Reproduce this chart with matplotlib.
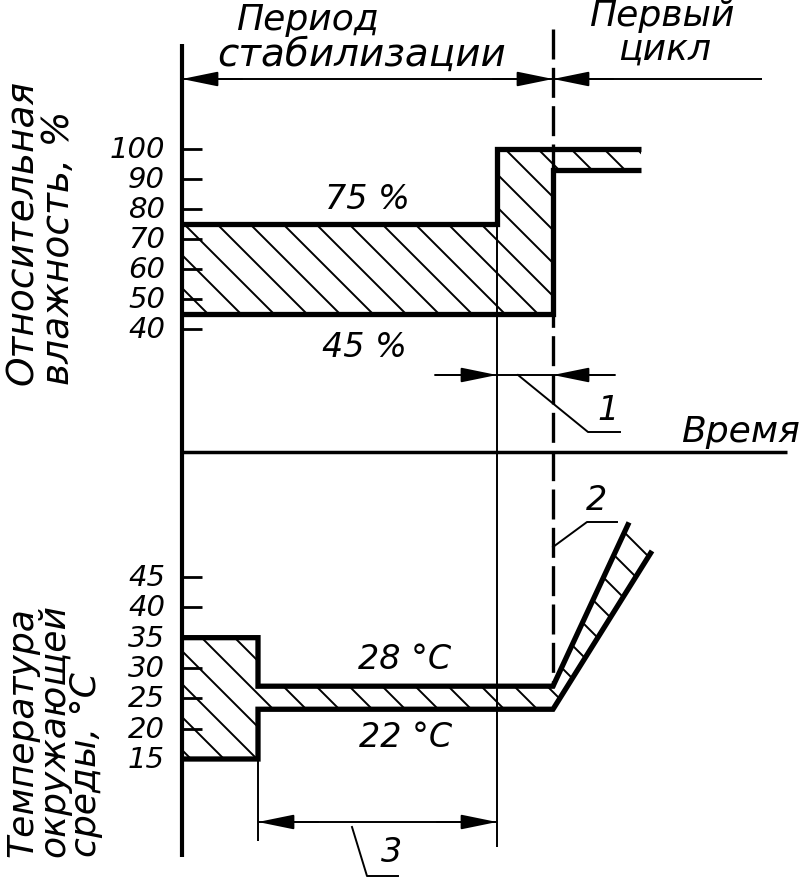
import numpy as np
import matplotlib
matplotlib.use('Agg')
import matplotlib.pyplot as plt
from matplotlib.patches import Polygon
from matplotlib.collections import LineCollection

plt.rcParams['font.family'] = ['DejaVu Sans']
plt.rcParams['font.style'] = 'italic'

# time in drawing units, 0 = start of the stabilisation period
t_temp_step = 76
t_hum_step = 315
t_cycle = 371
t_hum_end = 459

# relative humidity band, %
hum_t_upper = [0, t_hum_step, t_hum_step, t_hum_end]
hum_upper = [75, 75, 100, 100]
hum_t_lower = [0, t_cycle, t_cycle, t_hum_end]
hum_lower = [45, 45, 93, 93]

# ambient temperature band, deg C
temp_t_upper = [0, t_temp_step, t_temp_step, t_cycle, 447]
temp_upper = [35, 35, 27, 27, 54]
temp_t_lower = [0, t_temp_step, t_temp_step, t_cycle, 470]
temp_lower = [15, 15, 23.2, 23.2, 49.3]

hum_ticks = [100, 90, 80, 70, 60, 50, 40]
temp_ticks = [45, 40, 35, 30, 25, 20, 15]

W, H = 801, 879
fig = plt.figure(figsize=(W / 100, H / 100), dpi=100)


def full_ax(ylim):
    ax = fig.add_axes([0, 0, 1, 1])
    ax.set_xlim(-182, W - 182)
    ax.set_ylim(*ylim)
    ax.axis('off')
    return ax


ov = full_ax((H, 0))                       # overlay for the drawing furniture
ah = full_ax((100 - (H - 150) / 3, 100 + 150 / 3))
k = 182 / 30
at = full_ax((15 - (H - 760) / k, 15 + 760 / k))

THICK = 3.8
THIN = 1.4


def band(ax, tu, yu, tl, yl):
    xs = list(tu) + list(tl)[::-1]
    ys = list(yu) + list(yl)[::-1]
    poly = Polygon(np.column_stack([xs, ys]), closed=True, fc='none', ec='none')
    ax.add_patch(poly)
    c = np.arange(-H - 400, W, 33)
    segs = [[(x, 0), (x + H, H)] for x in c]
    lc = LineCollection(segs, colors='k', linewidths=THIN)
    ov.add_collection(lc)
    lc.set_clip_path(poly)
    for t, y in ((tu, yu), (tl, yl)):
        ax.plot(t, y, color='k', lw=THICK, solid_joinstyle='miter',
                solid_capstyle='butt')


band(ah, hum_t_upper, hum_upper, hum_t_lower, hum_lower)
band(at, temp_t_upper, temp_upper, temp_t_lower, temp_lower)

# axes and ticks
ov.vlines(0, 45, 858, color='k', lw=3)
ov.hlines(453, 0, 605, color='k', lw=2.5)
ah.hlines(hum_ticks, 0, 20, color='k', lw=2)
at.hlines(temp_ticks, 0, 20, color='k', lw=2)
for v in hum_ticks:
    ah.text(-17, v, str(v), ha='right', va='center', fontsize=21)
for v in temp_ticks:
    at.text(-17, v, str(v), ha='right', va='center', fontsize=21)

# reference lines
ov.vlines(t_hum_step, 152, 848, color='k', lw=THIN)
ov.vlines(t_temp_step, 710, 842, color='k', lw=THIN)
ov.plot([t_cycle, t_cycle], [30, 688], color='k', lw=2.4, ls=(0, (9, 2.5)))


def arrow(tip, tail):
    ov.annotate('', xy=tip, xytext=tail,
                arrowprops=dict(arrowstyle='-|>,head_length=22,head_width=4.5',
                                mutation_scale=1, lw=THIN, color='k',
                                shrinkA=0, shrinkB=0))


# period dimension lines
ov.hlines(80, 0, 580, color='k', lw=THIN)
arrow((0, 80), (60, 80))
arrow((t_cycle, 80), (t_cycle - 60, 80))
arrow((t_cycle, 80), (t_cycle + 60, 80))

# dimension 1
ov.hlines(376, 253, 433, color='k', lw=THIN)
arrow((t_hum_step, 376), (253, 376))
arrow((t_cycle, 376), (433, 376))
ov.plot([336, 406, 438], [376, 433, 433], color='k', lw=THIN)
ov.text(426, 411, '1', ha='center', va='center', fontsize=24)

# dimension 2
ov.plot([t_cycle, 405, 435], [548, 523, 523], color='k', lw=THIN)
ov.text(415, 501, '2', ha='center', va='center', fontsize=24)

# dimension 3
ov.hlines(823, t_temp_step, t_hum_step, color='k', lw=THIN)
arrow((t_temp_step, 823), (t_temp_step + 60, 823))
arrow((t_hum_step, 823), (t_hum_step - 60, 823))
ov.plot([170, 185, 216], [828, 877, 877], color='k', lw=THIN)
ov.text(210, 853, '3', ha='center', va='center', fontsize=24)

# texts
ov.text(125, 20, 'Период', ha='center', va='center', fontsize=26)
ov.text(180, 55, 'стабилизации', ha='center', va='center', fontsize=28)
ov.text(480, 16, 'Первый', ha='center', va='center', fontsize=26)
ov.text(483, 50, 'цикл', ha='center', va='center', fontsize=26)
ov.text(185, 200, '75 %', ha='center', va='center', fontsize=24)
ov.text(182, 348, '45 %', ha='center', va='center', fontsize=24)
ov.text(223, 660, '28 °C', ha='center', va='center', fontsize=24)
ov.text(224, 738, '22 °C', ha='center', va='center', fontsize=24)
ov.text(558, 432, 'Время', ha='center', va='center', fontsize=26)

ov.text(41 - 182, 385, 'Относительная\nвлажность, %', rotation=90,
        ha='center', va='bottom', multialignment='left', fontsize=27,
        linespacing=0.98)
ov.text(54 - 182, 857, 'Температура\nокружающей\nсреды, °С', rotation=90,
        ha='center', va='bottom', multialignment='left', fontsize=26,
        linespacing=0.92)

fig.savefig('out.png', dpi=100)
